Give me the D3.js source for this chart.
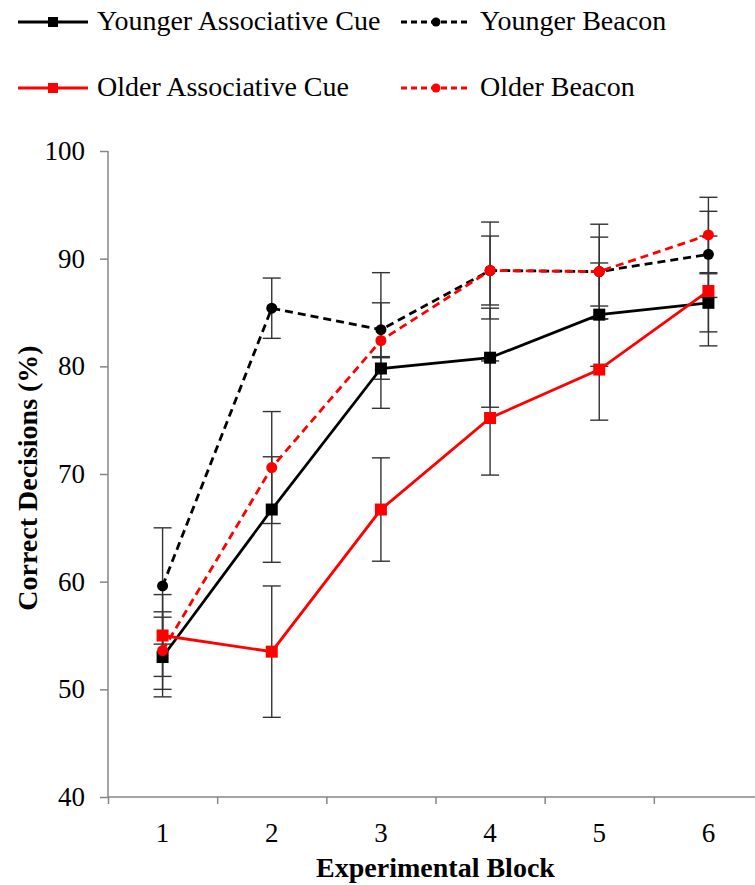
<!DOCTYPE html>
<html lang="en">
  <head>
    <meta charset="UTF-8" />
    <title>Correct Decisions</title>
    <style>
      body { margin: 0; background: #fff; }
      text { font-family: "Liberation Serif", "Times New Roman", serif; }
    </style>
  </head>
  <body>
    <svg id="svg" width="755" height="885"></svg>

    <script src="https://cdn.jsdelivr.net/npm/d3@7"></script>
    <script>
      const blocks = [1, 2, 3, 4, 5, 6];
      const yTicks = [40, 50, 60, 70, 80, 90, 100];

      const youngerCue = [53.0, 66.7, 79.8, 80.8, 84.8, 85.9];
      const youngerCueErr = [3.7, 4.9, 1.0, 4.6, 4.8, 2.7];
      const youngerBeacon = [59.6, 85.4, 83.4, 88.9, 88.8, 90.4];
      const youngerBeaconErr = [5.4, 2.8, 2.5, 3.2, 3.2, 4.0];
      const olderCue = [55.0, 53.5, 66.7, 75.2, 79.7, 87.0];
      const olderCueErr = [3.8, 6.1, 4.8, 5.3, 4.7, 5.1];
      const olderBeacon = [53.6, 70.6, 82.4, 88.9, 88.8, 92.2];
      const olderBeaconErr = [3.6, 5.2, 6.3, 4.5, 4.4, 3.5];

      const series = [
        { name: "Younger Associative Cue", values: youngerCue, err: youngerCueErr, color: "#000", dash: null, marker: "square" },
        { name: "Younger Beacon", values: youngerBeacon, err: youngerBeaconErr, color: "#000", dash: "8,5", marker: "circle" },
        { name: "Older Associative Cue", values: olderCue, err: olderCueErr, color: "#ff0000", dash: null, marker: "square" },
        { name: "Older Beacon", values: olderBeacon, err: olderBeaconErr, color: "#ff0000", dash: "8,5", marker: "circle" },
      ];

      const svg = d3.select("#svg");
      const plotL = 108, plotR = 763, plotT = 151, plotB = 797;
      const axisGrey = "#868686";

      const x = d3.scaleLinear().domain([0.5, 6.5]).range([plotL, plotR]);
      const y = d3.scaleLinear().domain([40, 100]).range([plotB, plotT]);

      // y axis
      const yAxis = svg.append("g")
        .attr("transform", `translate(${plotL},0)`)
        .call(d3.axisLeft(y).tickValues(yTicks).tickSize(8).tickPadding(15));
      yAxis.selectAll("text").style("font-size", "27px").attr("fill", "#000");
      yAxis.selectAll("line,path").attr("stroke", axisGrey).attr("stroke-width", 1.5);
      yAxis.select(".domain").attr("d", `M0,${plotT}V${plotB}`);

      // x axis: ticks between blocks, labels at block centres
      const xAxis = svg.append("g")
        .attr("transform", `translate(0,${plotB})`)
        .call(d3.axisBottom(x).tickValues(d3.range(0.5, 7, 1)).tickSize(7).tickFormat(""));
      xAxis.selectAll("line,path").attr("stroke", axisGrey).attr("stroke-width", 1.5);
      xAxis.select(".domain").attr("d", `M${plotL},0H${plotR}`);
      svg.append("g").selectAll("text")
        .data(blocks)
        .join("text")
        .attr("x", (d) => x(d))
        .attr("y", plotB + 45)
        .attr("text-anchor", "middle")
        .style("font-size", "27px")
        .text((d) => d);

      // axis titles
      svg.append("text")
        .attr("x", (plotL + plotR) / 2)
        .attr("y", 877)
        .attr("text-anchor", "middle")
        .style("font-size", "28px")
        .style("font-weight", "bold")
        .text("Experimental Block");
      svg.append("text")
        .attr("transform", `translate(37,478) rotate(-90)`)
        .attr("text-anchor", "middle")
        .style("font-size", "28px")
        .style("font-weight", "bold")
        .text("Correct Decisions (%)");

      // error bars
      const cap = 9;
      series.forEach((s) => {
        const g = svg.append("g").attr("stroke", "#333").attr("stroke-width", 1.4);
        s.values.forEach((v, i) => {
          const cx = x(blocks[i]);
          const y1 = y(v + s.err[i]), y2 = y(v - s.err[i]);
          g.append("line").attr("x1", cx).attr("x2", cx).attr("y1", y1).attr("y2", y2);
          g.append("line").attr("x1", cx - cap).attr("x2", cx + cap).attr("y1", y1).attr("y2", y1);
          g.append("line").attr("x1", cx - cap).attr("x2", cx + cap).attr("y1", y2).attr("y2", y2);
        });
      });

      const line = d3.line().x((d, i) => x(blocks[i])).y((d) => y(d));

      function drawMarker(g, type, cx, cy, color, size) {
        if (type === "square") {
          g.append("rect")
            .attr("x", cx - size / 2).attr("y", cy - size / 2)
            .attr("width", size).attr("height", size)
            .attr("fill", color);
        } else {
          g.append("circle").attr("cx", cx).attr("cy", cy).attr("r", size / 2).attr("fill", color);
        }
      }

      // lines and markers
      series.forEach((s) => {
        svg.append("path")
          .datum(s.values)
          .attr("fill", "none")
          .attr("stroke", s.color)
          .attr("stroke-width", 2.8)
          .attr("stroke-dasharray", s.dash)
          .attr("d", line);
        const g = svg.append("g");
        s.values.forEach((v, i) => {
          drawMarker(g, s.marker, x(blocks[i]), y(v), s.color, s.marker === "square" ? 12 : 11);
        });
      });

      // legend
      const legendPos = [
        { lx: 18, ly: 22 },
        { lx: 401, ly: 22 },
        { lx: 18, ly: 88 },
        { lx: 401, ly: 88 },
      ];
      series.forEach((s, k) => {
        const p = legendPos[k];
        const g = svg.append("g");
        g.append("line")
          .attr("x1", p.lx).attr("x2", p.lx + 70)
          .attr("y1", p.ly).attr("y2", p.ly)
          .attr("stroke", s.color)
          .attr("stroke-width", 2.8)
          .attr("stroke-dasharray", s.dash ? "6,4" : null);
        drawMarker(g, s.marker, p.lx + 35, p.ly, s.color, s.marker === "square" ? 10 : 9);
        g.append("text")
          .attr("x", p.lx + 79)
          .attr("y", p.ly + 7.5)
          .style("font-size", "28px")
          .text(s.name);
      });
    </script>
  </body>
</html>
